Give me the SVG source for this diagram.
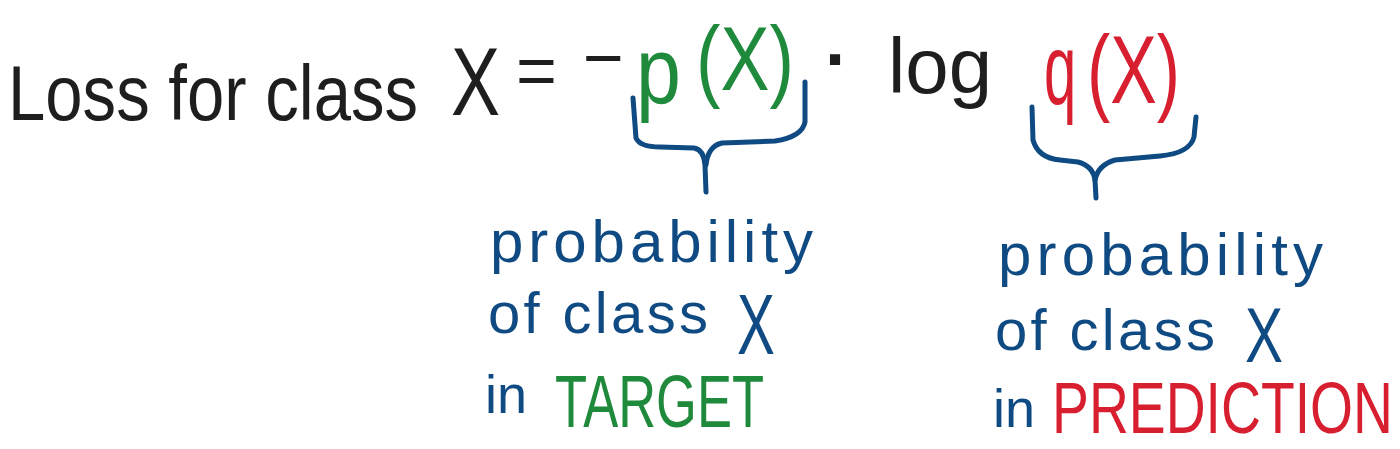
<svg xmlns="http://www.w3.org/2000/svg" width="1400" height="449" viewBox="0 0 1400 449">
<style>
text{font-family:"Liberation Sans","DejaVu Sans",sans-serif;}
.k{fill:#1e1e1e}
.g{fill:#1f8a3c}
.b{fill:#0f4a82}
.r{fill:#d71f30}
.brace{fill:none;stroke:#0f4a82;stroke-width:5;stroke-linecap:round;stroke-linejoin:round}
</style>
<rect width="1400" height="449" fill="#ffffff"/>
<g id="equation">
<text class="k" x="0" y="0" font-size="78" transform="translate(8,120) scale(0.86,1)">Loss for class</text>
<text class="k" x="0" y="0" font-size="96" transform="translate(451,115) scale(0.766,1)">X</text>
<text class="k" x="516" y="95" font-size="70">=</text>
<text class="k" x="583" y="82" font-size="70">−</text>
<text class="g" x="0" y="0" font-size="95" transform="translate(636,103) scale(0.85,1)">p</text>
<text class="g" x="0" y="0" font-size="90" transform="translate(696,90) scale(0.817,1)">(X)</text>
<text class="k" x="837" y="84" font-size="72" font-weight="bold" text-anchor="middle">·</text>
<text class="k" x="888" y="93" font-size="78">log</text>
<text class="r" x="0" y="0" font-size="100" transform="translate(1044,104) scale(0.58,1)">q</text>
<text class="r" x="0" y="0" font-size="96" transform="translate(1087,103) scale(0.727,1)">(X)</text>
</g>
<g id="connectors">
<path class="brace" d="M633,98 L636,138 Q640,147 660,147 L694,148 Q704,150 705,165 L706,192"/>
<path class="brace" d="M805,82 L805,122 Q802,137 775,141 L722,143 Q708,146 706,165"/>
<path class="brace" d="M1032,107 L1033,140 Q1038,158 1060,160 L1078,162 Q1093,166 1095,180 L1096,198"/>
<path class="brace" d="M1196,117 L1194,137 Q1190,153 1160,156 L1115,160 Q1098,165 1095,180"/>
</g>
<g id="target-label">
<text class="b" x="490" y="262" font-size="60" textLength="323" lengthAdjust="spacing">probability</text>
<text class="b" x="488" y="333" font-size="58" textLength="220" lengthAdjust="spacing">of class</text>
<text class="b" x="0" y="0" font-size="86" transform="translate(737,354) scale(0.66,1)">X</text>
<text class="b" x="485" y="413" font-size="54">in</text>
<text class="g" x="0" y="0" font-size="75" transform="translate(555,427) scale(0.70,1)">TARGET</text>
</g>
<g id="prediction-label">
<text class="b" x="998" y="275" font-size="60" textLength="325" lengthAdjust="spacing">probability</text>
<text class="b" x="995" y="350" font-size="58" textLength="220" lengthAdjust="spacing">of class</text>
<text class="b" x="0" y="0" font-size="78" transform="translate(1245,362) scale(0.73,1)">X</text>
<text class="b" x="993" y="427" font-size="54">in</text>
<text class="r" x="0" y="0" font-size="72" transform="translate(1052,433) scale(0.768,1)">PREDICTION</text>
</g>
</svg>
